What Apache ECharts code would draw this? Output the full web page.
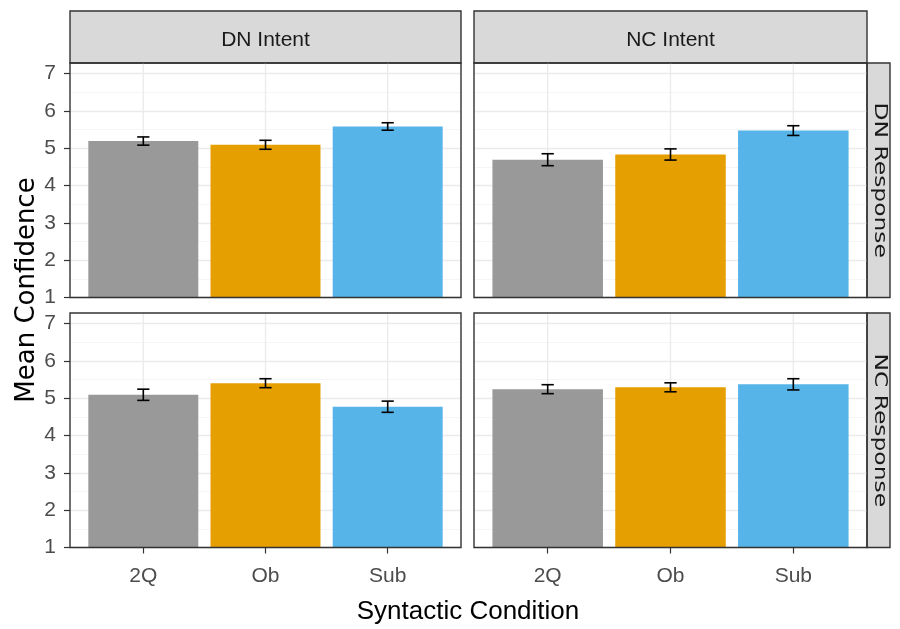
<!DOCTYPE html>
<html>
<head>
<meta charset="utf-8">
<script src="https://cdn.jsdelivr.net/npm/echarts@6/dist/echarts.min.js"></script>
<style>
  html, body { margin: 0; padding: 0; background: #fff; }
  #chart { width: 900px; height: 629px; }
</style>
</head>
<body>
<div id="chart"></div>
<script>
// data
const categories = ['2Q', 'Ob', 'Sub'];
const intents = ['DN Intent', 'NC Intent'];
const responses = ['DN Response', 'NC Response'];

const dnIntentDnResp = [5.19, 5.09, 5.58];
const dnIntentDnRespSe = [0.11, 0.12, 0.10];
const ncIntentDnResp = [4.69, 4.83, 5.47];
const ncIntentDnRespSe = [0.16, 0.15, 0.13];
const dnIntentNcResp = [5.09, 5.40, 4.77];
const dnIntentNcRespSe = [0.15, 0.12, 0.15];
const ncIntentNcResp = [5.24, 5.29, 5.37];
const ncIntentNcRespSe = [0.12, 0.12, 0.15];

const yTicks = [1, 2, 3, 4, 5, 6, 7];

const COLORS = ['#999999', '#E69F00', '#56B4E9'];
const Y_MIN = 1, Y_MAX = 7.28;
const BAR_W = 0.9, ERR_W = 0.1;

// panel layout
const panels = [
  { left: 70, top: 63, width: 391, height: 234.5, vals: dnIntentDnResp, se: dnIntentDnRespSe },
  { left: 474, top: 63, width: 393, height: 234.5, vals: ncIntentDnResp, se: ncIntentDnRespSe },
  { left: 70, top: 313, width: 391, height: 234.5, vals: dnIntentNcResp, se: dnIntentNcRespSe },
  { left: 474, top: 313, width: 393, height: 234.5, vals: ncIntentNcResp, se: ncIntentNcRespSe }
];

const chart = echarts.init(document.getElementById('chart'));

const grids = [], xAxes = [], yAxes = [], series = [];

panels.forEach((p, i) => {
  const isLeft = i % 2 === 0;
  const isBottom = i >= 2;
  grids.push({ left: p.left, top: p.top, width: p.width, height: p.height });
  xAxes.push({
    type: 'value', gridIndex: i, min: 0.4, max: 3.6,
    axisLine: { show: false },
    splitLine: { show: false },
    axisTick: { show: isBottom, customValues: [1, 2, 3], length: 6, lineStyle: { color: '#333', width: 1.2 } },
    axisLabel: {
      show: isBottom, customValues: [1, 2, 3], margin: 18,
      formatter: v => categories[Math.round(v) - 1] || '',
      fontFamily: 'Liberation Sans, Arial', fontSize: 21, color: '#4D4D4D'
    }
  });
  yAxes.push({
    type: 'value', gridIndex: i, min: Y_MIN, max: Y_MAX, interval: 1,
    axisLine: { show: false },
    axisTick: { show: isLeft, customValues: yTicks, length: 6, lineStyle: { color: '#333', width: 1.2 } },
    axisLabel: {
      show: isLeft, customValues: yTicks, margin: 14,
      fontFamily: 'Liberation Sans, Arial', fontSize: 21, color: '#4D4D4D'
    },
    splitLine: { show: true, lineStyle: { color: '#EBEBEB', width: 1.3 } },
    minorTick: { show: false, splitNumber: 2 },
    minorSplitLine: { show: true, lineStyle: { color: '#F2F2F2', width: 0.8 } }
  });

  // vertical grid lines at the categories
  series.push({
    type: 'custom', xAxisIndex: i, yAxisIndex: i, z: 1, silent: true,
    data: categories.map((c, k) => [k + 1]),
    renderItem: (params, api) => {
      const a = api.coord([api.value(0), Y_MIN]);
      const b = api.coord([api.value(0), Y_MAX]);
      return { type: 'line', shape: { x1: a[0], y1: a[1], x2: b[0], y2: b[1] },
        style: { stroke: '#EBEBEB', lineWidth: 1.3 } };
    }
  });

  // bars
  series.push({
    type: 'custom', xAxisIndex: i, yAxisIndex: i, z: 2,
    data: p.vals.map((v, k) => [k + 1, v]),
    renderItem: (params, api) => {
      const x = api.value(0), v = api.value(1);
      const p0 = api.coord([x - BAR_W / 2, v]);
      const p1 = api.coord([x + BAR_W / 2, Y_MIN]);
      return { type: 'rect',
        shape: { x: p0[0], y: p0[1], width: p1[0] - p0[0], height: p1[1] - p0[1] },
        style: { fill: COLORS[x - 1] } };
    }
  });

  // error bars
  series.push({
    type: 'custom', xAxisIndex: i, yAxisIndex: i, z: 3,
    data: p.vals.map((v, k) => [k + 1, v, p.se[k]]),
    renderItem: (params, api) => {
      const x = api.value(0), v = api.value(1), s = api.value(2);
      const lo = api.coord([x, v - s]), hi = api.coord([x, v + s]);
      const l = api.coord([x - ERR_W / 2, v])[0], r = api.coord([x + ERR_W / 2, v])[0];
      const st = { stroke: '#000', lineWidth: 1.6 };
      return { type: 'group', children: [
        { type: 'line', shape: { x1: lo[0], y1: lo[1], x2: hi[0], y2: hi[1] }, style: st },
        { type: 'line', shape: { x1: l, y1: lo[1], x2: r, y2: lo[1] }, style: st },
        { type: 'line', shape: { x1: l, y1: hi[1], x2: r, y2: hi[1] }, style: st }
      ] };
    }
  });
});

// panel borders, facet strips and axis titles
const graphic = [];
panels.forEach(p => {
  graphic.push({
    type: 'rect', z: 100, silent: true,
    shape: { x: p.left, y: p.top, width: p.width, height: p.height },
    style: { fill: 'none', stroke: '#333333', lineWidth: 1.4 }
  });
});
intents.forEach((t, k) => {
  const p = panels[k];
  graphic.push({
    type: 'rect', shape: { x: p.left, y: 11, width: p.width, height: p.top - 11 },
    style: { fill: '#D9D9D9', stroke: '#333333', lineWidth: 1.4 }
  });
  graphic.push({
    type: 'text', x: p.left + p.width / 2, y: 40,
    style: { text: t, font: '21px "Liberation Sans", Arial', fill: '#1A1A1A', align: 'center', verticalAlign: 'middle' }
  });
});
responses.forEach((t, k) => {
  const p = panels[k * 2 + 1];
  const sx = p.left + p.width;
  graphic.push({
    type: 'rect', shape: { x: sx, y: p.top, width: 23, height: p.height },
    style: { fill: '#D9D9D9', stroke: '#333333', lineWidth: 1.4 }
  });
  graphic.push({
    type: 'text', x: sx + 13, y: p.top + p.height / 2, rotation: -Math.PI / 2, scaleX: 1.3,
    style: { text: t, font: '18px "DejaVu Sans"', fill: '#1A1A1A', align: 'center', verticalAlign: 'middle' }
  });
});
graphic.push({
  type: 'text', x: 27, y: 290, rotation: Math.PI / 2,
  style: { text: 'Mean Confidence', font: '26px "DejaVu Sans"', fill: '#000', align: 'center', verticalAlign: 'middle' }
});
graphic.push({
  type: 'text', x: 468, y: 612,
  style: { text: 'Syntactic Condition', font: '26px "Liberation Sans", Arial', fill: '#000', align: 'center', verticalAlign: 'middle' }
});

chart.setOption({
  animation: false,
  backgroundColor: '#fff',
  grid: grids,
  xAxis: xAxes,
  yAxis: yAxes,
  series: series,
  graphic: graphic
});
</script>
</body>
</html>
